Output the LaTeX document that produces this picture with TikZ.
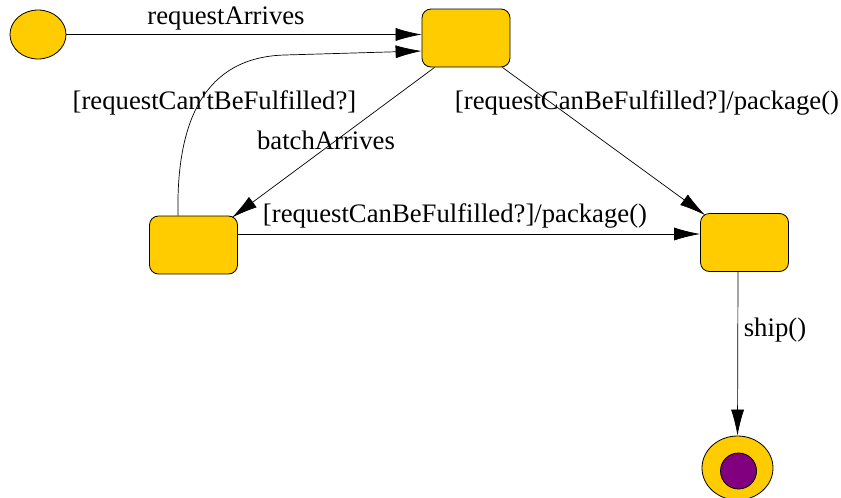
\documentclass[tikz,border=0pt]{standalone}
\usepackage{fontspec}
\setmainfont{Liberation Serif}
\usepackage{tikz}
\usetikzlibrary{arrows.meta, shapes.geometric}
\definecolor{stategold}{RGB}{255,204,0}
\definecolor{endpurple}{RGB}{128,0,128}
\tikzset{
  state/.style={
    minimum width=88pt,
    minimum height=58pt,
    draw=black,
    fill=stategold,
    line width=0.8pt,
    rounded corners=9pt
  },
  initial/.style={
    ellipse,
    minimum width=56pt,
    minimum height=49pt,
    inner sep=0pt,
    draw=black,
    fill=stategold,
    line width=0.8pt
  },
  note/.style={
    inner sep=0pt,
    font=\fontsize{26.7}{30}\selectfont
  },
  trans/.style={draw,line width=0.7pt,-{Latex[length=26pt,width=13pt]}}
}
\begin{document}
\begin{tikzpicture}[x=1pt,y=-1pt]
      \useasboundingbox (0,0) rectangle (841,498);
      \node (start) [initial] at (38,34.5) {};
      \node (idle) [state] at (466,38) {};
      \node (batch) [state] at (193.5,245) {};
      \node (pack) [state] at (744.5,242.5) {};
      \node (done) [ellipse, minimum width=71pt, minimum height=64pt, inner sep=0pt,
        draw=black, fill=stategold, line width=0.8pt] at (737.5,468) {};
      \node (doneinner) [circle, minimum size=36pt, inner sep=0pt, draw=black,
        fill=endpurple, line width=0.8pt] at (738.5,471) {};
      \coordinate (bend) at (285,55);
      % labels
      \node (l1) [note] at (226,19) {requestArrives};
      \node (l2) [note] at (214.5,103) {[requestCan\textquotesingle tBeFulfilled?]};
      \node (l3) [note] at (326,140) {batchArrives};
      \node (l4) [note] at (647,103) {[requestCanBeFulfilled?]/package()};
      \node (l5) [note] at (455,216) {[requestCanBeFulfilled?]/package()};
      \node (l6) [note] at (775,330) {ship()};
      \path
      (start.east) edge[trans] (start.east -| idle.west)
      ([xshift=13pt]idle.south west) edge[trans] ([xshift=-6pt,yshift=-2pt]batch.north east)
      ([xshift=-8pt]idle.south east) edge[trans] ([xshift=5pt,yshift=-2pt]pack.north west)
      ([yshift=11pt]batch.east) edge[trans] ([yshift=8.5pt]pack.west)
      ([xshift=-6.5pt]pack.south) edge[trans] (done.north)
      ;
      \draw[trans] ([xshift=-15.5pt]batch.north) .. controls (176,120) and (205,57) .. (bend)
        -- ([yshift=-13pt]idle.west);
  \end{tikzpicture}
\end{document}
